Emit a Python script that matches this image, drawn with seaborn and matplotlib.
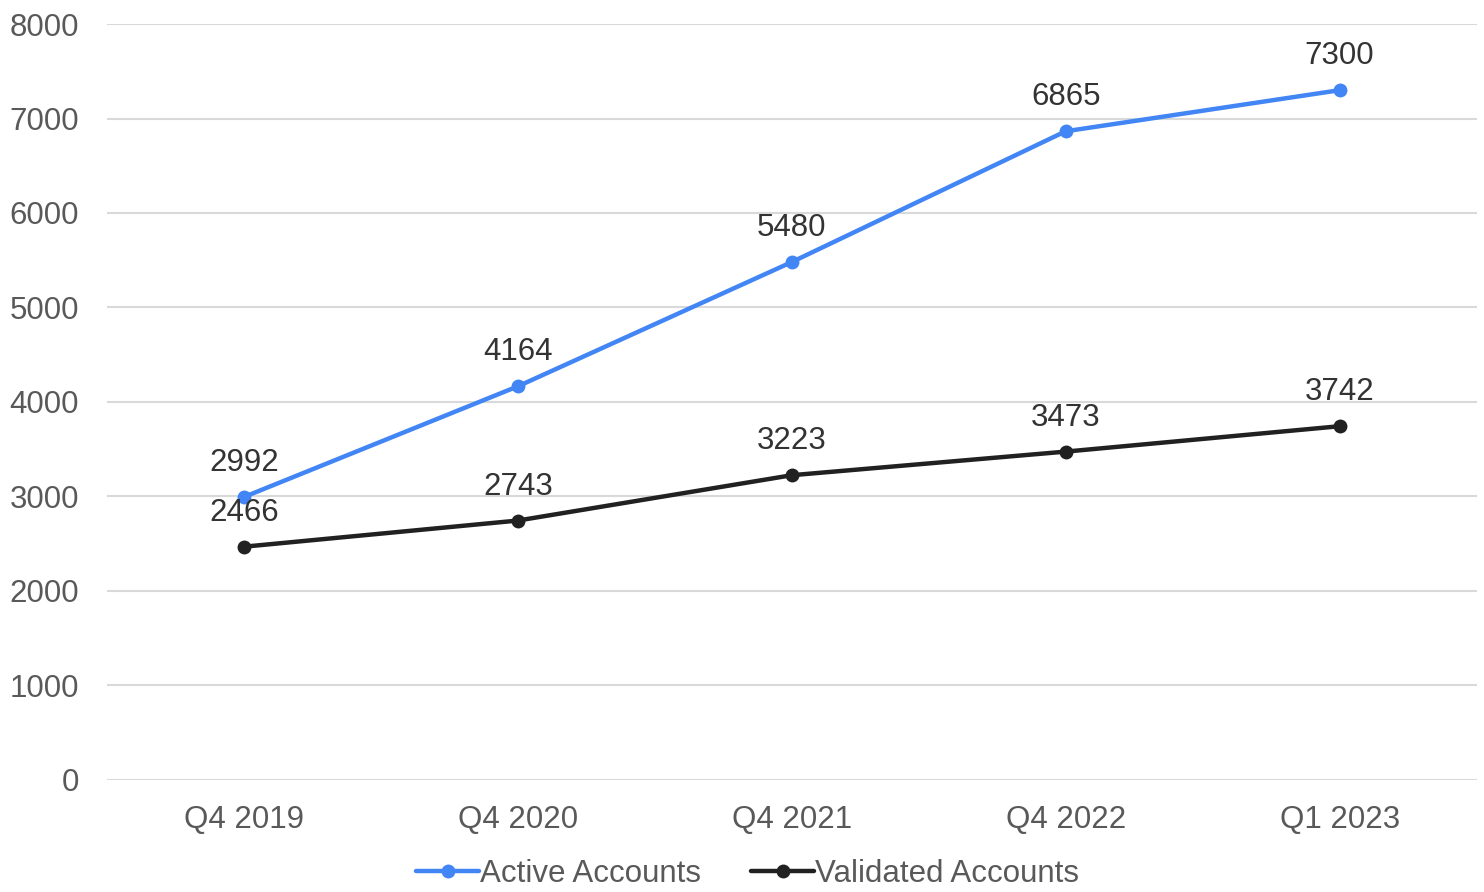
import matplotlib
matplotlib.use("Agg")
import matplotlib.pyplot as plt
import seaborn as sns
import pandas as pd

# chart data
quarters = ["Q4 2019", "Q4 2020", "Q4 2021", "Q4 2022", "Q1 2023"]
active = [2992, 4164, 5480, 6865, 7300]
validated = [2466, 2743, 3223, 3473, 3742]
series_names = ["Active Accounts", "Validated Accounts"]
colors = ["#4285F4", "#212121"]

df = pd.DataFrame({
    "quarter": quarters * 2,
    "value": active + validated,
    "series": [series_names[0]] * len(quarters) + [series_names[1]] * len(quarters),
})

sns.set_style("white")
plt.rcParams["font.family"] = ["Liberation Sans", "DejaVu Sans"]

fig, ax = plt.subplots(figsize=(14.84, 8.92), dpi=100)
fig.subplots_adjust(left=0.072, right=0.995, top=0.973, bottom=0.126)

sns.lineplot(data=df, x="quarter", y="value", hue="series", palette=colors,
             marker="o", markersize=10, markeredgewidth=0, linewidth=3.2,
             sort=False, ax=ax, legend=True)

# data labels
for vals in [active, validated]:
    for i, v in enumerate(vals):
        ax.annotate(str(v), (i, v), xytext=(0, 24.5), textcoords="offset points",
                    ha="center", va="center", fontsize=22.5, color="#333333")

ax.set_xlim(-0.5, len(quarters) - 0.5)
ax.set_ylim(0, 8000)
ax.set_yticks(range(0, 8001, 1000))
ax.yaxis.grid(True, color="#d9d9d9", linewidth=1.5)
ax.set_axisbelow(True)
for s in ax.spines.values():
    s.set_visible(False)
ax.set_xlabel("")
ax.set_ylabel("")
ax.tick_params(axis="both", length=0, labelsize=22.5, labelcolor="#595959")
ax.tick_params(axis="x", pad=18)
ax.tick_params(axis="y", pad=20)
for lbl in ax.get_yticklabels():
    lbl.set_horizontalalignment("right")

leg = ax.legend(loc="upper center", bbox_to_anchor=(0.468, -0.089), ncol=2,
                frameon=False, fontsize=22.5, handlelength=2.0, handletextpad=0.05,
                columnspacing=1.6, labelcolor="#595959", borderaxespad=0)

fig.savefig("out.png", dpi=100)
